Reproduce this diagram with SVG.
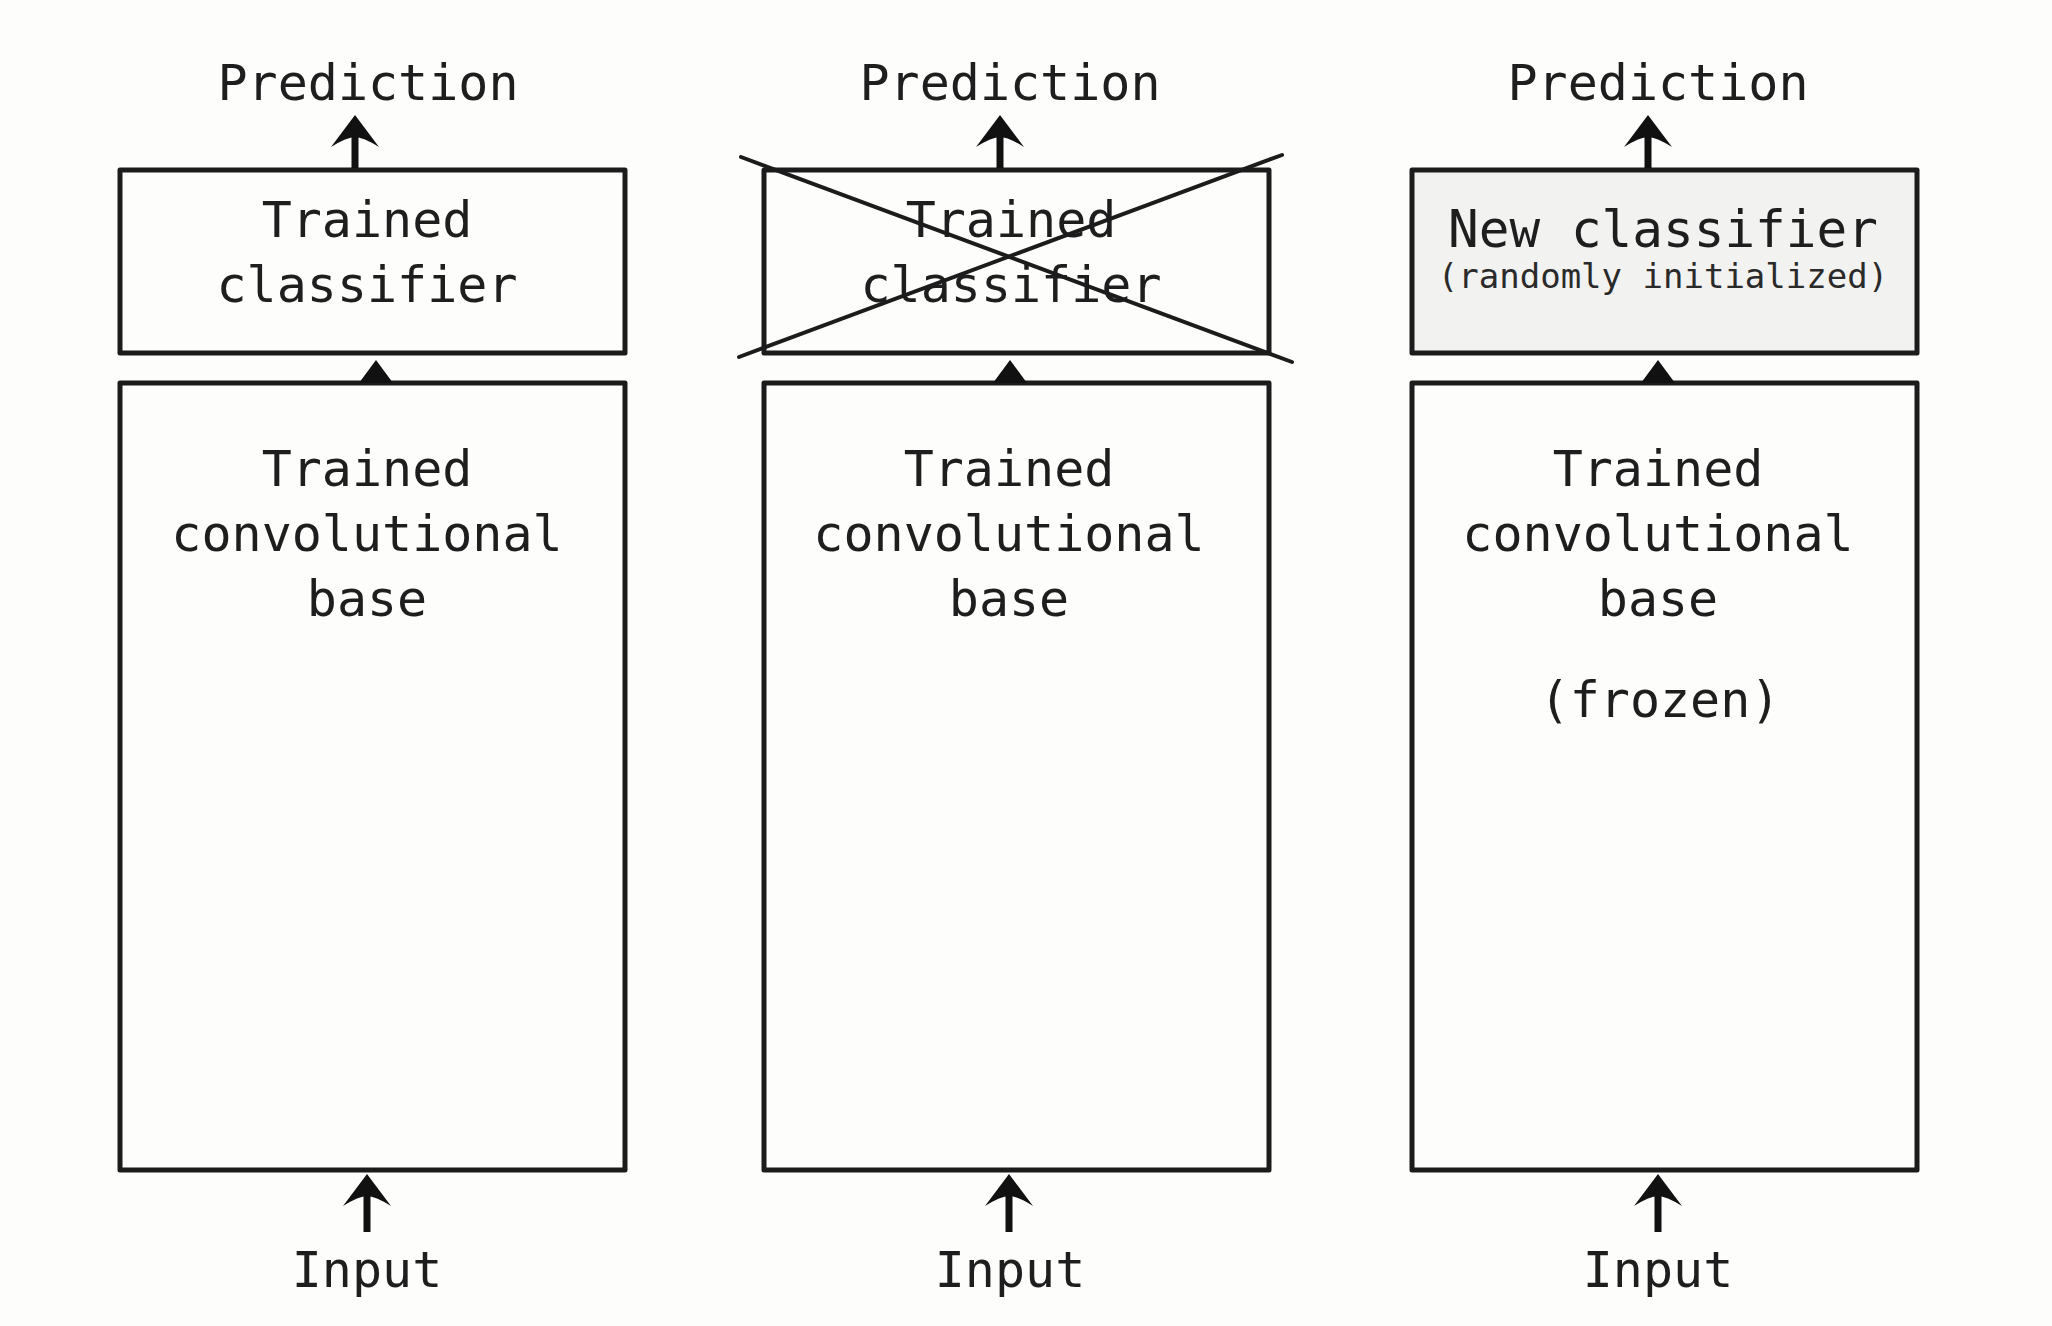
<svg xmlns="http://www.w3.org/2000/svg" width="2052" height="1326" viewBox="0 0 2052 1326">
<style>
.bg{fill:#fdfdfb}
.box{fill:#fdfdfb;stroke:#1c1c1c;stroke-width:5;stroke-linejoin:round}
.newbox{fill:#f2f2f1;stroke:#1c1c1c;stroke-width:5;stroke-linejoin:round}
.t{font-family:"DejaVu Sans Mono","Liberation Mono",monospace;font-size:50px;fill:#1e1e1e;text-anchor:middle}
.n{font-family:"DejaVu Sans Mono","Liberation Mono",monospace;font-size:51px;fill:#1e1e1e;text-anchor:middle}
.s{font-family:"DejaVu Sans Mono","Liberation Mono",monospace;font-size:34px;fill:#2a2a2a;text-anchor:middle}
.shaft{stroke:#111;stroke-width:7;fill:none}
.head{fill:#111}
.cross{stroke:#1c1c1c;stroke-width:4;fill:none;stroke-linecap:round}
</style>
<defs>
<path id="ah" d="M0,0 L24,32 Q8,22 0,22 Q-8,22 -24,32 Z"/>
<path id="tri" d="M0,0 L17,23 L-17,23 Z"/>
</defs>
<rect class="bg" x="0" y="0" width="2052" height="1326"/>

<g id="panel1">
  <g id="p1-prediction"><text class="t" x="368" y="100">Prediction</text></g>
  <g id="p1-classifier">
    <rect class="box" x="120" y="170" width="505" height="183"/>
    <text class="t" x="367" y="237">Trained</text>
    <text class="t" x="367" y="302">classifier</text>
  </g>
  <g id="p1-base">
    <rect class="box" x="120" y="383" width="505" height="787"/>
    <text class="t" x="367" y="486">Trained</text>
    <text class="t" x="367" y="551">convolutional</text>
    <text class="t" x="367" y="616">base</text>
  </g>
  <g id="p1-input"><text class="t" x="367" y="1287">Input</text></g>
</g>

<g id="panel2">
  <g id="p2-prediction"><text class="t" x="1010" y="100">Prediction</text></g>
  <g id="p2-classifier">
    <rect class="box" x="764" y="170" width="505" height="183"/>
    <text class="t" x="1011" y="237">Trained</text>
    <text class="t" x="1011" y="302">classifier</text>
    <line class="cross" x1="741" y1="157" x2="1292" y2="362"/>
    <line class="cross" x1="739" y1="357" x2="1282" y2="155"/>
  </g>
  <g id="p2-base">
    <rect class="box" x="764" y="383" width="505" height="787"/>
    <text class="t" x="1009" y="486">Trained</text>
    <text class="t" x="1009" y="551">convolutional</text>
    <text class="t" x="1009" y="616">base</text>
  </g>
  <g id="p2-input"><text class="t" x="1010" y="1287">Input</text></g>
</g>

<g id="panel3">
  <g id="p3-prediction"><text class="t" x="1658" y="100">Prediction</text></g>
  <g id="p3-classifier">
    <rect class="newbox" x="1412" y="170" width="505" height="183"/>
    <text class="n" x="1663" y="247">New classifier</text>
    <text class="s" x="1663" y="288">(randomly initialized)</text>
  </g>
  <g id="p3-base">
    <rect class="box" x="1412" y="383" width="505" height="787"/>
    <text class="t" x="1658" y="486">Trained</text>
    <text class="t" x="1658" y="551">convolutional</text>
    <text class="t" x="1658" y="616">base</text>
    <text class="t" x="1660" y="717">(frozen)</text>
  </g>
  <g id="p3-input"><text class="t" x="1658" y="1287">Input</text></g>
</g>

<g id="connectors">
  <line class="shaft" x1="355" y1="168" x2="355" y2="135"/>
  <use href="#ah" class="head" x="355" y="115"/>
  <line class="shaft" x1="1000" y1="168" x2="1000" y2="135"/>
  <use href="#ah" class="head" x="1000" y="115"/>
  <line class="shaft" x1="1648" y1="168" x2="1648" y2="135"/>
  <use href="#ah" class="head" x="1648" y="115"/>

  <use href="#tri" class="head" x="376" y="360"/>
  <use href="#tri" class="head" x="1010" y="360"/>
  <use href="#tri" class="head" x="1658" y="360"/>

  <line class="shaft" x1="367" y1="1232" x2="367" y2="1195"/>
  <use href="#ah" class="head" x="367" y="1174"/>
  <line class="shaft" x1="1009" y1="1232" x2="1009" y2="1195"/>
  <use href="#ah" class="head" x="1009" y="1174"/>
  <line class="shaft" x1="1658" y1="1232" x2="1658" y2="1195"/>
  <use href="#ah" class="head" x="1658" y="1174"/>
</g>
</svg>
